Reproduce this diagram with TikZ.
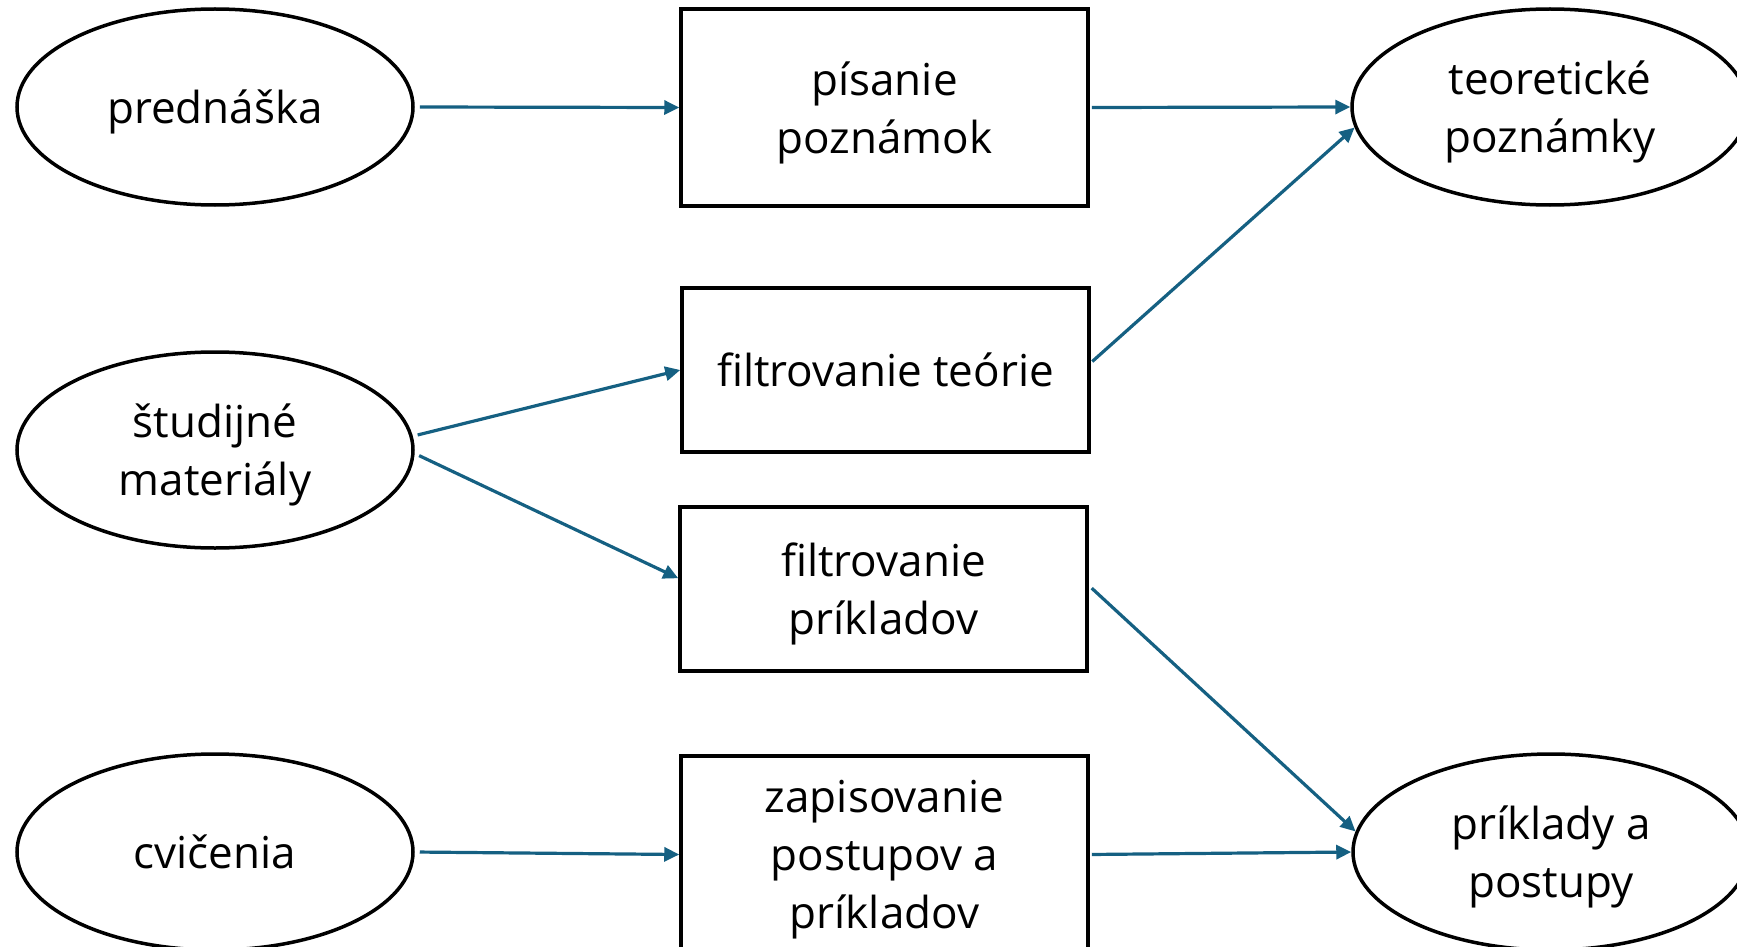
\documentclass[tikz,border=0pt]{standalone}
\usepackage{fontspec}
\setmainfont{Open Sans}
\usetikzlibrary{arrows.meta,shapes.geometric}
\definecolor{arrowblue}{HTML}{156082}
\newcommand\nodesc[1]{\raisebox{0pt}[\height][0pt]{#1}}
\tikzset{
  oval/.style={ellipse, draw=black, line width=3.5pt, minimum width=396pt, minimum height=196pt, inner sep=0pt, align=center, font=\fontsize{44}{58}\selectfont},
  box/.style={rectangle, draw=black, line width=3.5pt, minimum width=407pt, inner sep=0pt, align=center, font=\fontsize{44}{58}\selectfont},
  conn/.style={draw=arrowblue, line width=3.2pt, -{Triangle[length=15pt,width=14pt]}}
}
\begin{document}
\begin{tikzpicture}[x=1pt,y=-1pt]
\useasboundingbox (0,0) rectangle (1737,947);
\node[oval] (pred) at (215,107) {\nodesc{prednáška}};
\node[oval] (stud) at (215,450) {študijné\\\nodesc{materiály}};
\node[oval] (cvic) at (215,852) {\nodesc{cvičenia}};
\node[oval] (teo) at (1550,107) {teoretické\\\nodesc{poznámky}};
\node[oval] (prik) at (1551,852) {príklady a\\\nodesc{postupy}};
\node[box, minimum height=197pt] (pis) at (884.5,107.5) {písanie\\\nodesc{poznámok}};
\node[box, minimum height=164pt] (ft) at (885.5,370) {\nodesc{filtrovanie teórie}};
\node[box, minimum height=164pt] (fp) at (883.5,589) {filtrovanie\\\nodesc{príkladov}};
\node[box, minimum height=197pt] (zap) at (884.5,854.5) {zapisovanie\\postupov a\\\nodesc{príkladov}};
\draw[conn, shorten <=5pt] (pred.east) -- (pis.west);
\draw[conn, shorten <=2pt] (pis.east) -- (teo.west);
\draw[conn, shorten <=2pt] (ft.2.5) -- (teo.186);
\draw[conn, shorten <=5pt] (stud.4) -- (ft.180);
\draw[conn, shorten <=5pt] (stud.-1) -- (fp.177.5);
\draw[conn, shorten <=4pt] (fp.1.4) -- (prik.174);
\draw[conn, shorten <=5pt] (cvic.east) -- (zap.west);
\draw[conn, shorten <=2pt] (zap.east) -- (prik.west);
\end{tikzpicture}
\end{document}
